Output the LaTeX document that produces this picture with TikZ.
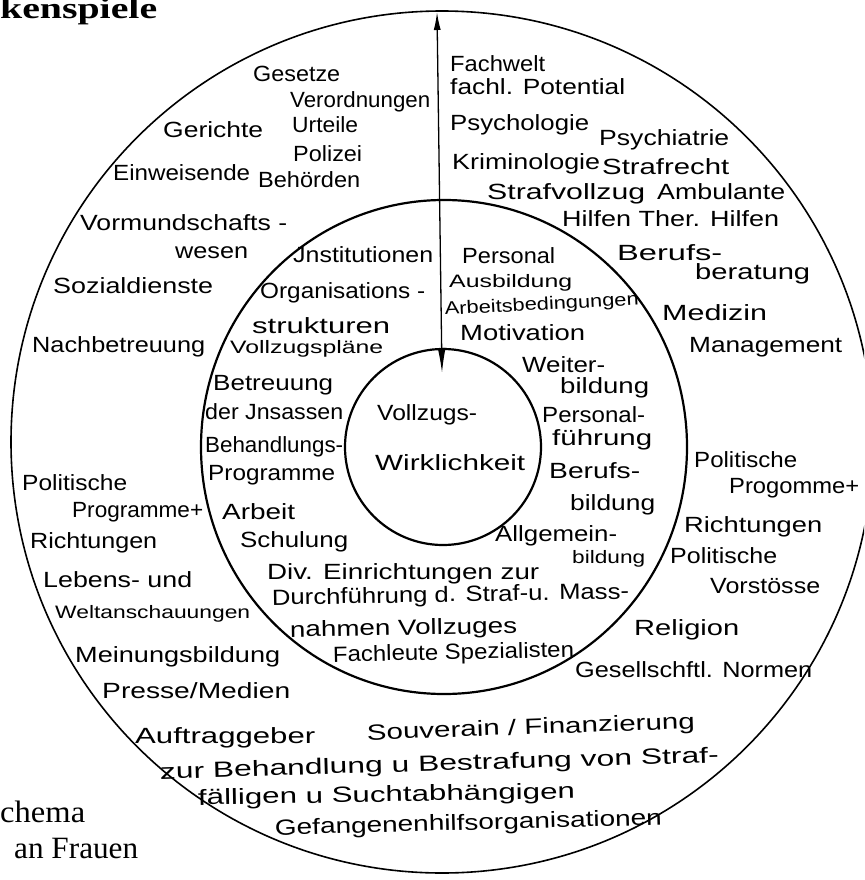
\documentclass[tikz,border=0pt]{standalone}
\usepackage{graphicx}
\usepackage{fontspec}
\setmainfont{Liberation Sans}
\newfontfamily\capfont{Liberation Serif}
\usetikzlibrary{arrows.meta}
\tikzset{
  hw/.style={anchor=base west, inner sep=0pt, font=\fontsize{22}{22}\selectfont},
  hws/.style={anchor=base west, inner sep=0pt, font=\fontsize{18}{18}\selectfont},
  captxt/.style={anchor=base west, inner sep=0pt, font=\capfont\fontsize{31}{31}\selectfont},
  outerring/.style={line width=1.6pt},
  innerring/.style={line width=2.2pt},
  bigarrow/.style={line width=1.3pt, {Latex[length=18pt,width=7pt]}-{Latex[length=25pt,width=8pt]}}
}
\newcommand{\fw}[2]{\resizebox{#1pt}{\height}{#2}}
\begin{document}
\begin{tikzpicture}[x=1pt,y=-1pt]
\useasboundingbox (0,0) rectangle (864,880);
\clip (0,0) rectangle (864,880);
% rings
\draw[outerring] (442,442) circle[radius=431pt];
\draw[innerring] (444,447) ellipse[x radius=243pt, y radius=247pt];
\draw[innerring] (443,447) circle[radius=98pt];
% arrow
\coordinate (atop) at (437,12);
\coordinate (abot) at (442,373);
\draw[bigarrow] (atop) -- (abot);
% captions
\node[captxt, font=\capfont\bfseries\fontsize{30}{30}\selectfont] (c1) at (0,19) {\fw{157}{kenspiele}};
\node[captxt] (c2) at (0,822) {\fw{85}{chema}};
\node[captxt] (c3) at (14,858) {\fw{124}{an Frauen}};
% outer ring, top left
\node[hw] (o1) at (253,82) {\fw{87}{Gesetze}};
\node[hw] (o2) at (290,108) {\fw{140}{Verordnungen}};
\node[hw] (o3) at (163,138) {\fw{100}{Gerichte}};
\node[hw] (o4) at (292,132) {\fw{66}{Urteile}};
\node[hw] (o5) at (293,161) {\fw{69}{Polizei}};
\node[hw] (o6) at (113,180) {\fw{137}{Einweisende}};
\node[hw] (o7) at (258,187) {\fw{102}{Behörden}};
\node[hw] (o8) at (80,230) {\fw{207}{Vormundschafts -}};
\node[hw] (o9) at (175,258) {\fw{73}{wesen}};
\node[hw] (o10) at (53,293) {\fw{160}{Sozialdienste}};
\node[hw] (o11) at (32,352) {\fw{173}{Nachbetreuung}};
% outer ring, top right
\node[hw] (o12) at (450,72) {\fw{95}{Fachwelt}};
\node[hw] (o13) at (450,95) {\fw{175}{fachl. Potential}};
\node[hw] (o14) at (450,131) {\fw{139}{Psychologie}};
\node[hw] (o15) at (599,146) {\fw{130}{Psychiatrie}};
\node[hw] (o16) at (452,169) {\fw{148}{Kriminologie}};
\node[hw] (o17) at (602,174) {\fw{127}{Strafrecht}};
\node[hw] (o18) at (487,199) {\fw{158}{Strafvollzug}};
\node[hw] (o19) at (657,199) {\fw{128}{Ambulante}};
\node[hw] (o20) at (562,226) {\fw{217}{Hilfen Ther. Hilfen}};
\node[hw] (o21) at (617,260) {\fw{105}{Berufs-}};
\node[hw] (o22) at (695,279) {\fw{115}{beratung}};
\node[hw] (o23) at (662,320) {\fw{105}{Medizin}};
\node[hw] (o24) at (689,352) {\fw{153}{Management}};
% outer ring, right
\node[hw] (o25) at (694,467) {\fw{103}{Politische}};
\node[hw] (o26) at (729,493) {\fw{130}{Progomme+}};
\node[hw] (o27) at (684,532) {\fw{138}{Richtungen}};
\node[hw] (o28) at (670,563) {\fw{107}{Politische}};
\node[hw] (o29) at (710,593) {\fw{110}{Vorstösse}};
\node[hw] (o30) at (634,635) {\fw{105}{Religion}};
\node[hw] (o31) at (575,677) {\fw{237}{Gesellschftl. Normen}};
% outer ring, left
\node[hw] (o32) at (22,490) {\fw{105}{Politische}};
\node[hw] (o33) at (72,517) {\fw{131}{Programme+}};
\node[hw] (o34) at (30,548) {\fw{127}{Richtungen}};
\node[hw] (o35) at (43,587) {\fw{149}{Lebens- und}};
\node[hws] (o36) at (55,618) {\fw{195}{Weltanschauungen}};
\node[hw] (o37) at (75,662) {\fw{205}{Meinungsbildung}};
\node[hw] (o38) at (102,698) {\fw{188}{Presse/Medien}};
\node[hw] (o39) at (135,743) {\fw{180}{Auftraggeber}};
% outer ring, bottom
\node[hw, rotate=2] (o40) at (367,740) {\fw{328}{Souverain / Finanzierung}};
\node[hw, rotate=1.7] (o41) at (160,779) {\fw{559}{zur Behandlung u Bestrafung von Straf-}};
\node[hw, rotate=1] (o42) at (198,805) {\fw{377}{fälligen u Suchtabhängigen}};
\node[hw, rotate=1.5] (o43) at (275,835) {\fw{387}{Gefangenenhilfsorganisationen}};
% middle ring, left
\node[hw] (m1) at (293,262) {\fw{140}{Jnstitutionen}};
\node[hw] (m2) at (260,298) {\fw{165}{Organisations -}};
\node[hw] (m3) at (252,333) {\fw{138}{strukturen}};
\node[hws] (m4) at (230,353) {\fw{153}{Vollzugspläne}};
\node[hw] (m5) at (213,390) {\fw{120}{Betreuung}};
\node[hw] (m6) at (205,419) {\fw{138}{der Jnsassen}};
\node[hw] (m7) at (205,452) {\fw{138}{Behandlungs-}};
\node[hw] (m8) at (208,480) {\fw{127}{Programme}};
\node[hw] (m9) at (222,519) {\fw{73}{Arbeit}};
\node[hw] (m10) at (240,547) {\fw{108}{Schulung}};
% middle ring, bottom
\node[hw] (m11) at (267,579) {\fw{272}{Div. Einrichtungen zur}};
\node[hw, rotate=1] (m12) at (272,605) {\fw{357}{Durchführung d. Straf-u. Mass-}};
\node[hw, rotate=1] (m13) at (290,637) {\fw{227}{nahmen Vollzuges}};
\node[hw, rotate=1.2] (m14) at (333,662) {\fw{241}{Fachleute Spezialisten}};
% middle ring, right
\node[hw] (m15) at (462,263) {\fw{93}{Personal}};
\node[hws] (m16) at (449,287) {\fw{123}{Ausbildung}};
\node[hws, rotate=3] (m17) at (445,315) {\fw{194}{Arbeitsbedingungen}};
\node[hw] (m18) at (460,340) {\fw{125}{Motivation}};
\node[hw] (m19) at (522,372) {\fw{83}{Weiter-}};
\node[hw] (m20) at (560,393) {\fw{89}{bildung}};
\node[hw] (m21) at (542,422) {\fw{103}{Personal-}};
\node[hw] (m22) at (552,445) {\fw{100}{führung}};
\node[hw] (m23) at (549,478) {\fw{91}{Berufs-}};
\node[hw] (m24) at (570,510) {\fw{85}{bildung}};
\node[hw] (m25) at (495,541) {\fw{122}{Allgemein-}};
\node[hws] (m26) at (572,563) {\fw{73}{bildung}};
% inner circle
\node[hw] (i1) at (377,420) {\fw{100}{Vollzugs-}};
\node[hw] (i2) at (375,470) {\fw{150}{Wirklichkeit}};
\end{tikzpicture}
\end{document}
